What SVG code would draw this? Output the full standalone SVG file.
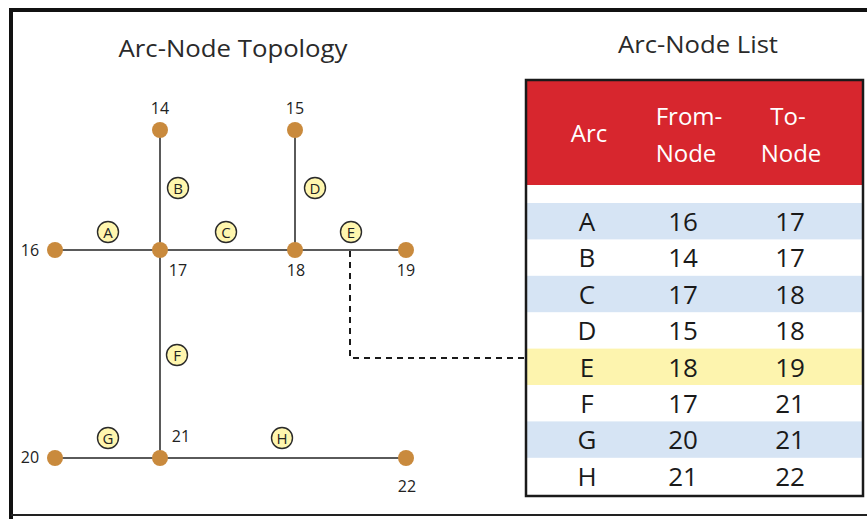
<svg xmlns="http://www.w3.org/2000/svg" width="867" height="519" viewBox="0 0 867 519">
<style>
.title{font-family:"Open Sans","Liberation Sans",sans-serif;font-size:24px;fill:#2a2a2a;text-anchor:middle}
.edge{stroke:#5a5a5a;stroke-width:2;fill:none}
.node{fill:#C98A3D}
.nlab{font-family:"Open Sans","Liberation Sans",sans-serif;font-size:16px;fill:#222;text-anchor:middle}
.arc circle{fill:#FFF6AE;stroke:#2a2a2a;stroke-width:1.4}
.arc text{font-family:"Open Sans","Liberation Sans",sans-serif;font-size:15px;fill:#222;text-anchor:middle}
.hdr{font-family:"Open Sans","Liberation Sans",sans-serif;font-size:24px;fill:#fff;text-anchor:middle}
.cell{font-family:"Open Sans","Liberation Sans",sans-serif;font-size:26px;fill:#1a1a1a;text-anchor:middle}
.blue{fill:#D6E4F4}
.yel{fill:#FDF4AE}
</style>
<rect x="0" y="0" width="867" height="519" fill="#fff"/>
<g id="frame">
<line x1="9" y1="10" x2="867" y2="10" stroke="#111" stroke-width="4"/>
<line x1="11" y1="8" x2="11" y2="519" stroke="#111" stroke-width="4"/>
<line x1="11" y1="515" x2="867" y2="515" stroke="#222" stroke-width="2"/>
</g>
<text class="title" x="233" y="57" textLength="229" lengthAdjust="spacingAndGlyphs">Arc-Node Topology</text>
<text class="title" x="698" y="53" textLength="160" lengthAdjust="spacingAndGlyphs">Arc-Node List</text>
<g id="connectors">
<line class="edge" x1="55" y1="250" x2="406" y2="250"/>
<line class="edge" x1="160" y1="130" x2="160" y2="458"/>
<line class="edge" x1="295" y1="130" x2="295" y2="250"/>
<line class="edge" x1="55" y1="458" x2="406" y2="458"/>
<path d="M350 251 V358 H525" fill="none" stroke="#1a1a1a" stroke-width="2" stroke-dasharray="6 5"/>
</g>
<g id="arcs">
<g id="arc-A" class="arc"><circle cx="108" cy="232" r="10.5"/><text x="108" y="237.5">A</text></g>
<g id="arc-B" class="arc"><circle cx="178" cy="188" r="10.5"/><text x="178" y="193.5">B</text></g>
<g id="arc-C" class="arc"><circle cx="226" cy="232" r="10.5"/><text x="226" y="237.5">C</text></g>
<g id="arc-D" class="arc"><circle cx="315" cy="188" r="10.5"/><text x="315" y="193.5">D</text></g>
<g id="arc-E" class="arc"><circle cx="351" cy="232" r="10.5"/><text x="351" y="237.5">E</text></g>
<g id="arc-F" class="arc"><circle cx="177" cy="355" r="10.5"/><text x="177" y="360.5">F</text></g>
<g id="arc-G" class="arc"><circle cx="108" cy="438" r="10.5"/><text x="108" y="443.5">G</text></g>
<g id="arc-H" class="arc"><circle cx="282" cy="438" r="10.5"/><text x="282" y="443.5">H</text></g>
</g>
<g id="node-14"><circle class="node" cx="160" cy="130" r="8"/><text class="nlab" x="160" y="114">14</text></g>
<g id="node-15"><circle class="node" cx="295" cy="130" r="8"/><text class="nlab" x="295" y="114">15</text></g>
<g id="node-16"><circle class="node" cx="55" cy="250" r="8"/><text class="nlab" x="30" y="256">16</text></g>
<g id="node-17"><circle class="node" cx="160" cy="250" r="8"/><text class="nlab" x="178" y="276">17</text></g>
<g id="node-18"><circle class="node" cx="295" cy="250" r="8"/><text class="nlab" x="296" y="276">18</text></g>
<g id="node-19"><circle class="node" cx="406" cy="250" r="8"/><text class="nlab" x="406" y="276">19</text></g>
<g id="node-20"><circle class="node" cx="55" cy="458" r="8"/><text class="nlab" x="30" y="463">20</text></g>
<g id="node-21"><circle class="node" cx="160" cy="458" r="8"/><text class="nlab" x="181" y="442">21</text></g>
<g id="node-22"><circle class="node" cx="406" cy="458" r="8"/><text class="nlab" x="407" y="492">22</text></g>
<g id="table">
<rect x="526" y="80" width="337" height="416" fill="#fff"/>
<rect x="526" y="80" width="337" height="105" fill="#D7262E"/>
<rect class="blue" x="526" y="203" width="337" height="36.4"/>
<rect class="blue" x="526" y="275.8" width="337" height="36.4"/>
<rect class="yel" x="526" y="348.6" width="337" height="36.4"/>
<rect class="blue" x="526" y="421.4" width="337" height="36.4"/>
<rect x="526" y="80" width="337" height="416" fill="none" stroke="#1a1a1a" stroke-width="2.5"/>
<text class="hdr" x="589" y="142">Arc</text>
<text class="hdr" x="689" y="125">From-</text>
<text class="hdr" x="686" y="162">Node</text>
<text class="hdr" x="788" y="125">To-</text>
<text class="hdr" x="791" y="162">Node</text>
<g class="cell">
<text x="587" y="231">A</text><text x="683" y="231">16</text><text x="790" y="231">17</text>
<text x="587" y="267.4">B</text><text x="683" y="267.4">14</text><text x="790" y="267.4">17</text>
<text x="587" y="303.8">C</text><text x="683" y="303.8">17</text><text x="790" y="303.8">18</text>
<text x="587" y="340.2">D</text><text x="683" y="340.2">15</text><text x="790" y="340.2">18</text>
<text x="587" y="376.6">E</text><text x="683" y="376.6">18</text><text x="790" y="376.6">19</text>
<text x="587" y="413">F</text><text x="683" y="413">17</text><text x="790" y="413">21</text>
<text x="587" y="449.4">G</text><text x="683" y="449.4">20</text><text x="790" y="449.4">21</text>
<text x="587" y="485.8">H</text><text x="683" y="485.8">21</text><text x="790" y="485.8">22</text>
</g>
</g>
</svg>
